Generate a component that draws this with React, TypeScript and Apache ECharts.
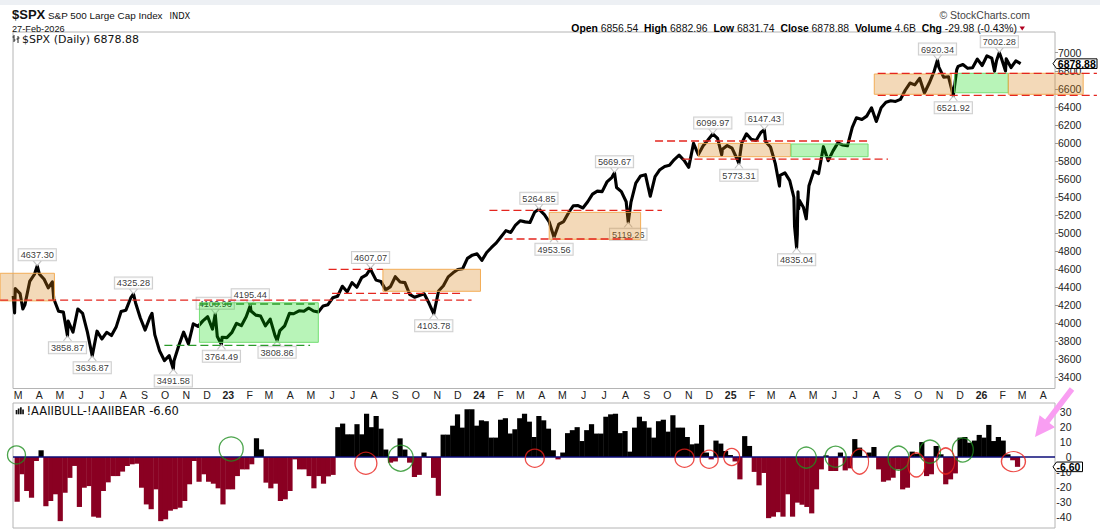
import React, { useEffect, useRef } from "react";
import * as echarts from "echarts";

// ---------------- DATA ----------------
// S&P 500 weekly closes plus the labelled swing extremes
const spx2022: [string, number][] = [
  ["2022-02-22", 4304], ["2022-02-24", 4115], ["2022-02-25", 4385], ["2022-03-04", 4329], ["2022-03-08", 4158],
  ["2022-03-11", 4204], ["2022-03-18", 4463], ["2022-03-25", 4543], ["2022-03-29", 4637.3], ["2022-04-01", 4546],
  ["2022-04-08", 4488], ["2022-04-14", 4392], ["2022-04-20", 4459], ["2022-04-22", 4272], ["2022-04-29", 4132],
  ["2022-05-06", 4123], ["2022-05-12", 3858.87], ["2022-05-13", 4024], ["2022-05-20", 3901], ["2022-05-27", 4158],
  ["2022-06-03", 4109], ["2022-06-10", 3901], ["2022-06-17", 3636.87], ["2022-06-24", 3912], ["2022-07-01", 3825],
  ["2022-07-08", 3899], ["2022-07-15", 3863], ["2022-07-22", 3962], ["2022-07-29", 4130], ["2022-08-05", 4145],
  ["2022-08-12", 4280], ["2022-08-16", 4325.28], ["2022-08-19", 4228], ["2022-08-26", 4058], ["2022-09-02", 3924],
  ["2022-09-09", 4067], ["2022-09-12", 4110], ["2022-09-16", 3873], ["2022-09-23", 3693], ["2022-09-30", 3586],
  ["2022-10-07", 3640], ["2022-10-13", 3491.58], ["2022-10-14", 3583], ["2022-10-21", 3753], ["2022-10-28", 3901],
  ["2022-11-04", 3771], ["2022-11-11", 3993], ["2022-11-18", 3965], ["2022-11-25", 4026], ["2022-12-02", 4072],
  ["2022-12-09", 3934], ["2022-12-13", 4100.96], ["2022-12-16", 3852], ["2022-12-22", 3764.49], ["2022-12-23", 3845],
  ["2022-12-30", 3840],
];
const spx2023: [string, number][] = [
  ["2023-01-06", 3895], ["2023-01-13", 3999], ["2023-01-20", 3973], ["2023-01-27", 4071], ["2023-02-02", 4195.44],
  ["2023-02-03", 4136], ["2023-02-10", 4090], ["2023-02-17", 4079], ["2023-02-24", 3970], ["2023-03-03", 4046],
  ["2023-03-10", 3862], ["2023-03-13", 3808.86], ["2023-03-17", 3917], ["2023-03-24", 3971], ["2023-03-31", 4109],
  ["2023-04-06", 4105], ["2023-04-14", 4138], ["2023-04-21", 4133], ["2023-04-28", 4169], ["2023-05-05", 4136],
  ["2023-05-12", 4124], ["2023-05-19", 4192], ["2023-05-26", 4205], ["2023-06-02", 4282], ["2023-06-09", 4299],
  ["2023-06-16", 4410], ["2023-06-23", 4348], ["2023-06-30", 4450], ["2023-07-07", 4399], ["2023-07-14", 4505],
  ["2023-07-21", 4536], ["2023-07-27", 4607.07], ["2023-07-28", 4582], ["2023-08-04", 4478], ["2023-08-11", 4464],
  ["2023-08-18", 4370], ["2023-08-25", 4406], ["2023-09-01", 4516], ["2023-09-08", 4457], ["2023-09-15", 4450],
  ["2023-09-22", 4320], ["2023-09-29", 4288], ["2023-10-06", 4308], ["2023-10-13", 4327], ["2023-10-20", 4224],
  ["2023-10-27", 4103.78], ["2023-11-03", 4358], ["2023-11-10", 4415], ["2023-11-17", 4514], ["2023-11-24", 4559],
  ["2023-12-01", 4595], ["2023-12-08", 4604], ["2023-12-15", 4719], ["2023-12-22", 4755], ["2023-12-29", 4770],
];
const spx2024: [string, number][] = [
  ["2024-01-05", 4697], ["2024-01-12", 4784], ["2024-01-19", 4840], ["2024-01-26", 4891], ["2024-02-02", 4959],
  ["2024-02-09", 5027], ["2024-02-16", 5006], ["2024-02-23", 5089], ["2024-03-01", 5137], ["2024-03-08", 5124],
  ["2024-03-15", 5117], ["2024-03-22", 5234], ["2024-03-28", 5264.85], ["2024-04-05", 5204], ["2024-04-12", 5123],
  ["2024-04-19", 4953.56], ["2024-04-26", 5100], ["2024-05-03", 5128], ["2024-05-10", 5223], ["2024-05-17", 5303],
  ["2024-05-24", 5305], ["2024-05-31", 5278], ["2024-06-07", 5347], ["2024-06-14", 5432], ["2024-06-21", 5465],
  ["2024-06-28", 5460], ["2024-07-05", 5567], ["2024-07-12", 5615], ["2024-07-16", 5669.67], ["2024-07-19", 5505],
  ["2024-07-26", 5459], ["2024-08-02", 5347], ["2024-08-05", 5119.26], ["2024-08-09", 5344], ["2024-08-16", 5554],
  ["2024-08-23", 5634], ["2024-08-30", 5648], ["2024-09-06", 5408], ["2024-09-13", 5626], ["2024-09-20", 5703],
  ["2024-09-27", 5738], ["2024-10-04", 5751], ["2024-10-11", 5815], ["2024-10-18", 5864], ["2024-10-25", 5808],
  ["2024-11-01", 5729], ["2024-11-08", 5995], ["2024-11-15", 5871], ["2024-11-22", 5969], ["2024-11-29", 6032],
  ["2024-12-06", 6099.97], ["2024-12-13", 6051], ["2024-12-19", 5867], ["2024-12-20", 5930], ["2024-12-27", 5971],
];
const spx2025: [string, number][] = [
  ["2025-01-03", 5942], ["2025-01-10", 5827], ["2025-01-13", 5773.31], ["2025-01-17", 5997], ["2025-01-24", 6101],
  ["2025-01-31", 6041], ["2025-02-07", 6026], ["2025-02-14", 6115], ["2025-02-19", 6147.43], ["2025-02-21", 6013],
  ["2025-02-28", 5955], ["2025-03-07", 5770], ["2025-03-13", 5521], ["2025-03-14", 5639], ["2025-03-21", 5668],
  ["2025-03-28", 5581], ["2025-04-03", 5397], ["2025-04-04", 5074], ["2025-04-07", 4835.04], ["2025-04-08", 4982],
  ["2025-04-09", 5457], ["2025-04-10", 5268], ["2025-04-11", 5363], ["2025-04-17", 5283], ["2025-04-21", 5158],
  ["2025-04-25", 5525], ["2025-05-02", 5687], ["2025-05-09", 5660], ["2025-05-16", 5958], ["2025-05-23", 5803],
  ["2025-05-30", 5912], ["2025-06-06", 6000], ["2025-06-13", 5977], ["2025-06-20", 5968], ["2025-06-27", 6173],
  ["2025-07-03", 6279], ["2025-07-11", 6260], ["2025-07-18", 6297], ["2025-07-25", 6389], ["2025-08-01", 6238],
  ["2025-08-08", 6389], ["2025-08-15", 6450], ["2025-08-22", 6467], ["2025-08-29", 6460], ["2025-09-05", 6482],
  ["2025-09-12", 6584], ["2025-09-19", 6664], ["2025-09-26", 6644], ["2025-10-03", 6716], ["2025-10-10", 6553],
  ["2025-10-17", 6664], ["2025-10-24", 6792], ["2025-10-29", 6920.34], ["2025-10-31", 6840], ["2025-11-07", 6729],
  ["2025-11-14", 6734], ["2025-11-21", 6521.92], ["2025-11-26", 6813], ["2025-11-28", 6849], ["2025-12-05", 6870],
  ["2025-12-12", 6827], ["2025-12-19", 6834], ["2025-12-26", 6930],
];
const spx2026: [string, number][] = [
  ["2026-01-02", 6858], ["2026-01-09", 6966], ["2026-01-16", 6940], ["2026-01-20", 6796], ["2026-01-23", 6915],
  ["2026-01-27", 7002.28], ["2026-01-30", 6939], ["2026-02-05", 6798], ["2026-02-06", 6932], ["2026-02-13", 6836],
  ["2026-02-20", 6910], ["2026-02-27", 6878.88],
];
const lastClose = 6878.88;
const lastSpread = -6.6;

// AAII bull-bear spread, weekly from 2022-02-24
const spreadFirstWeek = "2022-02-24";
const aaiiSpread = [
  -30, -11.6, -22.8, -27.3, -2.7, 4.5, -33, -29.5, -25, -43,
  -24, -14, -6, -33.5, -20.6, -19.5, -40, -40.7, -22.8, -17,
  -12.8, -12.8, -9.8, -6, -4.9, -4.5, -20.6, -31.8, -35, -21.7,
  -43, -41.8, -36, -35, -34, -29.5, -18.3, -2.7, -16.6, -11.6,
  -16.6, -17.9, -21, -31.8, -21.7, -21.7, -12.8, -8.3, -8.3, -4.9,
  12.5, 5.1, -17.2, -21, -17.9, -29.5, -28.4, -22.8, -1.6, -8.3,
  -8.3, -12.8, -21, -12.8, -17.9, -13, -12, 20, 22.4, 15.2,
  15.2, 22, 15.2, 29, 20, 27.5, 19, 5, -3.8, -3,
  12.5, 5, -3.8, -13.4, -12, 3, -0.5, -14, -26, 15,
  15, 21, 28.6, 19.7, 32, 32, 21, 24.6, 24, 13,
  13, 25, 26, 15.7, 18.6, 26, 29, 23.7, 13.4, 27.5,
  24.6, 19, 4.5, -1.6, 3, 16, 18, 20, 10.7, 18,
  22, 15.7, 15.7, 27, 28.6, 29, 16, 17.4, 3.6, 19.7,
  27, 24, 19.7, 13, 24, 25, 17, 28, 19.7, 19.7,
  13.4, 8.5, 9, 21.5, 3, -1.6, 11, 9, 4, 1.3,
  -3, -15, 14, 7.4, -10, -19, -10.7, -41, -40, -37,
  -40, -25, -40, -30.6, -32, -33.5, -37.8, -21.7, -8.3, 1.1,
  -9.4, -9.4, 3, -9, -7.6, 12, 6.3, 0.7, 3, 6.7,
  -8.3, -16.6, -15.7, -13.9, -8.3, -21.7, -20.6, 3.6, 2.2, 10,
  -12.8, -11.6, 7.4, 1.8, -18.3, -15, -11, 13, 13.4, 9.6,
  11, 14.8, 13, 21.5, 10.7, 13.4, 11, 1.8, -2.2, -6.6,
];

const priceTicks = [3400, 3600, 3800, 4000, 4200, 4400, 4600, 4800, 5000, 5200, 5400, 5600, 5800, 6000, 6200, 6400, 6600, 6800, 7000];
const spreadTicks = [30, 20, 10, 0, -10, -20, -30, -40];
const monthLetters = ["J", "F", "M", "A", "M", "J", "J", "A", "S", "O", "N", "D"];

// price callouts
const calloutDates = ["2022-03-29", "2022-05-12", "2022-06-17", "2022-08-16", "2022-10-13", "2022-12-13", "2022-12-22", "2023-02-02", "2023-03-13", "2023-07-27", "2023-10-27", "2024-03-28", "2024-04-19", "2024-07-16", "2024-08-05", "2024-12-06", "2025-01-13", "2025-02-19", "2025-04-07", "2025-10-29", "2025-11-21", "2026-01-27"];
const calloutValues = [4637.3, 3858.87, 3636.87, 4325.28, 3491.58, 4100.96, 3764.49, 4195.44, 3808.86, 4607.07, 4103.78, 5264.85, 4953.56, 5669.67, 5119.26, 6099.97, 5773.31, 6147.43, 4835.04, 6920.34, 6521.92, 7002.28];
const calloutSides = ["top", "bottom", "bottom", "top", "bottom", "top", "bottom", "top", "bottom", "top", "bottom", "top", "bottom", "top", "bottom", "top", "bottom", "top", "bottom", "top", "bottom", "top"];

// shaded zones
const zoneStarts = ["2022-02-03", "2022-11-20", "2023-08-14", "2024-04-12", "2024-11-15", "2025-03-30", "2025-07-29", "2025-11-23", "2026-02-09"];
const zoneEnds = ["2022-04-23", "2023-05-12", "2024-01-03", "2024-08-23", "2025-03-29", "2025-07-20", "2025-11-18", "2026-02-09", "2026-05-29"];
const zoneLows = [4248, 3788, 4354, 4931, 5847, 5847, 6539, 6556, 6539];
const zoneHighs = [4554, 4227, 4598, 5230, 5995, 5988, 6764, 6772, 6772];
const zoneKinds = ["orange", "green", "orange", "orange", "orange", "green", "orange", "green", "orange"];

// dashed levels
const levelStarts = ["2022-02-03", "2023-06-01", "2023-05-27", "2024-01-16", "2024-02-07", "2024-09-13", "2024-10-23", "2025-08-03", "2025-08-03", "2022-11-21", "2022-09-30"];
const levelEnds = ["2023-12-21", "2023-12-08", "2023-08-14", "2024-09-23", "2024-08-12", "2025-07-22", "2025-08-18", "2026-06-18", "2026-06-18", "2023-05-07", "2023-04-30"];
const levelValues = [4256, 4332, 4598, 5252, 4934, 6021, 5821, 6772, 6528, 4213, 3755];
const levelKinds = ["red", "red", "red", "red", "red", "red", "red", "red", "red", "green", "green"];

// sentiment circles
const greenCircleDates = ["2022-02-23", "2023-01-03", "2023-09-08", "2025-04-23", "2025-06-05", "2025-09-05", "2025-10-21", "2025-12-08"];
const greenCircleLevels = [1.4, 5.4, -0.8, -0.4, 0.2, -0.8, 3.6, 4.7];
const redCircleDates = ["2023-07-19", "2024-03-22", "2024-10-27", "2024-12-02", "2025-01-04", "2025-07-10", "2025-10-01", "2025-11-13", "2026-02-20"];
const redCircleLevels = [-4.2, -0.8, -0.8, -1.5, 0, -3.1, -5.3, -2.7, -3.1];

// ---------------- STYLE ----------------
const greenCircleSizes = [[18, 18], [24, 24], [25, 26], [20, 21], [21, 21], [21, 24], [21, 23], [21, 24]];
const redCircleSizes = [[22, 22], [19, 18], [19, 18], [18, 18], [16, 17], [18, 25], [17, 24], [18, 26], [24, 20]];
const FONT = "Liberation Sans";
const VFONT = "DejaVu Sans";
const DAY = 86400000;

const ts = (s: string) => {
  const [y, m, d] = s.split("-").map(Number);
  return new Date(y, m - 1, d).getTime();
};
const X_MIN = new Date(2022, 1, 21, 17).getTime();
const X_MAX = new Date(2026, 3, 18).getTime();

function buildOption(): any {
  const price = [...spx2022, ...spx2023, ...spx2024, ...spx2025, ...spx2026].map(([d, v]) => [ts(d), v]);
  const start = ts(spreadFirstWeek);
  const spread = aaiiSpread.map((v, i) => [start + i * 7 * DAY, v]);
  const callouts = calloutDates.map((d, i) => {
    const up = calloutSides[i] === "top";
    return {
      value: [ts(d), calloutValues[i]],
      symbol: up ? "path://M0,0L4,5L8,0" : "path://M0,5L4,0L8,5",
      symbolOffset: [0, up ? "-50%" : "50%"],
      label: { position: up ? "top" : "bottom", distance: up ? 0 : 1 },
    };
  });
  const circles = (dates: string[], levels: number[], sizes: number[][]) =>
    dates.map((d, i) => ({ value: [ts(d), levels[i]], symbolSize: sizes[i] }));

  return {
    animation: false,
    backgroundColor: "#ffffff",
    textStyle: { fontFamily: FONT },
    grid: [
      { left: 13, top: 32, width: 1042, height: 356.5, show: true, borderColor: "#b4b4b4", borderWidth: 1, backgroundColor: "rgba(0,0,0,0)", outerBoundsMode: "none" },
      { left: 13, top: 403, width: 1042, height: 125, show: true, borderColor: "#b4b4b4", borderWidth: 1, backgroundColor: "rgba(0,0,0,0)", outerBoundsMode: "none" },
    ],
    xAxis: [
      {
        type: "time", gridIndex: 0, min: X_MIN, max: X_MAX, splitNumber: 50,
        minInterval: 28 * DAY, maxInterval: 31 * DAY,
        axisLine: { show: false }, axisTick: { show: false }, splitLine: { show: false },
        axisLabel: {
          margin: 1, fontSize: 10.5, color: "#222", fontFamily: FONT, hideOverlap: false,
          showMinLabel: false, showMaxLabel: false,
          formatter: (v: number) => {
            const d = new Date(v);
            if (d.getDate() !== 1 || d.getHours() !== 0) return "";
            const m = d.getMonth();
            return m === 0 ? `{yr|${String(d.getFullYear()).slice(2)}}` : monthLetters[m];
          },
          rich: { yr: { fontWeight: "bold", fontSize: 10.5, color: "#222", fontFamily: FONT } },
        },
      },
      {
        type: "time", gridIndex: 1, min: X_MIN, max: X_MAX,
        axisLine: { show: false }, axisTick: { show: false }, splitLine: { show: false }, axisLabel: { show: false },
      },
    ],
    yAxis: [
      {
        type: "value", gridIndex: 0, position: "right", min: 3276, max: 7230,
        axisLine: { show: false }, splitLine: { show: false },
        axisTick: { show: true, customValues: priceTicks, length: 3, lineStyle: { color: "#999" } },
        axisLabel: { customValues: priceTicks, margin: 3, fontSize: 10.5, color: "#222", fontFamily: FONT, formatter: (v: number) => String(v) },
      },
      {
        type: "value", gridIndex: 1, position: "right", min: -47.6, max: 36.2,
        axisLine: { show: false }, splitLine: { show: false }, axisTick: { show: false },
        axisLabel: { customValues: spreadTicks, margin: 16.5, align: "right", fontSize: 10.5, color: "#222", fontFamily: FONT, formatter: (v: number) => String(v) },
      },
    ],
    series: [
      {
        name: "SPX", type: "line", xAxisIndex: 0, yAxisIndex: 0, data: price,
        symbol: "none", showSymbol: false, silent: true, z: 2,
        lineStyle: { color: "#000", width: 3.1, join: "round" },
      },
      {
        name: "callouts", type: "scatter", xAxisIndex: 0, yAxisIndex: 0, data: callouts,
        symbolSize: [8, 5], silent: true, z: 3,
        itemStyle: { color: "#ffffff", borderColor: "#b5b5b5", borderWidth: 1 },
        label: {
          show: true, formatter: (p: any) => p.value[1].toFixed(2), fontSize: 9.2, lineHeight: 10,
          color: "#000", fontFamily: FONT, backgroundColor: "#ffffff", borderColor: "#c2c2c2", borderWidth: 1,
          padding: [1, 2, 0, 2],
        },
      },
      {
        name: "AAII", type: "bar", xAxisIndex: 1, yAxisIndex: 1, data: spread, barWidth: 5.2, silent: true, z: 2,
        itemStyle: { color: (p: any) => (p.value[1] >= 0 ? "#000000" : "#8a0022") },
        markLine: {
          silent: true, symbol: ["none", "none"], label: { show: false }, z: 5, animation: false,
          lineStyle: { color: "#0d0d78", width: 1.6, type: "solid" }, data: [{ yAxis: 0 }],
        },
      },
      {
        name: "green circles", type: "scatter", xAxisIndex: 1, yAxisIndex: 1, symbol: "circle", clip: false, silent: true, z: 6,
        data: circles(greenCircleDates, greenCircleLevels, greenCircleSizes),
        itemStyle: { color: "rgba(0,0,0,0)", borderColor: "#1f8f1f", borderWidth: 1.3 },
      },
      {
        name: "red circles", type: "scatter", xAxisIndex: 1, yAxisIndex: 1, symbol: "circle", clip: false, silent: true, z: 6,
        data: circles(redCircleDates, redCircleLevels, redCircleSizes),
        itemStyle: { color: "rgba(0,0,0,0)", borderColor: "#e8201c", borderWidth: 1.3 },
      },
    ],
  };
}

function txt(x: number, y: number, text: string, o: any = {}): any {
  const style: any = { text, fill: o.fill || "#111", fontSize: o.size || 10, fontFamily: o.family || FONT, fontWeight: o.weight || "normal", align: o.align || "left", verticalAlign: "middle" };
  if (o.rich) style.rich = o.rich;
  return { type: "text", x, y, z: 50, silent: true, style };
}

function buildGraphics(chart: any): any[] {
  const g: any[] = [];
  const px = (d: string, v: number) => chart.convertToPixel({ gridIndex: 0 }, [ts(d), v]) as number[];

  g.push({ type: "rect", z: 0, silent: true, shape: { x: 0, y: 0, width: 1100, height: 5 }, style: { fill: "#edf0f4" } });

  zoneStarts.forEach((s, i) => {
    const [x1, y1] = px(s, zoneHighs[i]);
    const [x2, y2] = px(zoneEnds[i], zoneLows[i]);
    const orange = zoneKinds[i] === "orange";
    g.push({
      type: "rect", z: 4, silent: true,
      shape: { x: x1, y: y1, width: x2 - x1, height: y2 - y1 },
      style: orange
        ? { fill: "rgba(215,130,20,0.30)", stroke: "rgba(242,170,80,0.95)", lineWidth: 1 }
        : { fill: "rgba(0,215,0,0.28)", stroke: "rgba(110,220,110,0.95)", lineWidth: 1 },
    });
  });

  levelStarts.forEach((s, i) => {
    const [x1, y1] = px(s, levelValues[i]);
    const [x2] = px(levelEnds[i], levelValues[i]);
    const red = levelKinds[i] === "red";
    g.push({
      type: "line", z: 5, silent: true,
      shape: { x1, y1, x2, y2: y1 },
      style: { stroke: red ? "#e4261f" : "#2a9a2a", lineWidth: 1.3, lineDash: [8, 4] },
    });
  });

  // header
  g.push(txt(12, 14.5, "$SPX", { size: 13, weight: "bold", fill: "#111" }));
  g.push(txt(48, 15, "S&P 500 Large Cap Index", { size: 9.9, fill: "#111" }));
  g.push(txt(169.5, 15.5, "INDX", { size: 8.3, family: VFONT, fill: "#111" }));
  g.push(txt(12, 28.5, "27-Feb-2026", { size: 9.2, fill: "#111" }));
  g.push(txt(1030, 15, "\u00a9 StockCharts.com", { size: 10.5, fill: "#444", align: "right" }));
  g.push(txt(1017, 28.3,
    "{b|Open} 6856.54  {b|High} 6882.96  {b|Low} 6831.74  {b|Close} 6878.88  {b|Volume} 4.6B  {b|Chg} -29.98 (-0.43%)",
    { size: 10.4, align: "right", fill: "#111", rich: { b: { fontWeight: "bold", fontSize: 10.4, fontFamily: FONT, fill: "#000" } } }));
  g.push({ type: "polygon", z: 50, silent: true, shape: { points: [[1019.5, 26.5], [1025, 26.5], [1022.2, 30.5]] }, style: { fill: "#b00020" } });

  // panel legends
  const icon = [[14, 35, 14, 42], [12.5, 37, 14, 37], [14, 40, 15.5, 40], [18, 36, 18, 43], [16.5, 39, 18, 39], [18, 38, 19.5, 38]];
  icon.forEach(([x1, y1, x2, y2]) => g.push({ type: "line", z: 50, silent: true, shape: { x1, y1, x2, y2 }, style: { stroke: "#222", lineWidth: 1 } }));
  g.push(txt(22, 39.5, "$SPX (Daily) 6878.88", { size: 11, family: VFONT, fill: "#111" }));

  [[15.7, 410], [17.8, 408.5], [20, 407.3], [22.2, 409.5]].forEach(([x, y]) =>
    g.push({ type: "rect", z: 50, silent: true, shape: { x, y, width: 1.7, height: 414.3 - y }, style: { fill: "#111" } }));
  g.push(txt(26.5, 410.8, "!AAIIBULL-!AAIIBEAR -6.60", { size: 11.5, family: VFONT, fill: "#111" }));

  // current value markers
  const yP = chart.convertToPixel({ yAxisIndex: 0 }, lastClose) as number;
  g.push({ type: "polygon", z: 100, silent: true, shape: { points: [[1053, yP], [1056.5, yP - 4.8], [1097, yP - 4.8], [1097, yP + 4.8], [1056.5, yP + 4.8]] }, style: { fill: "#fff", stroke: "#000", lineWidth: 1 } });
  g.push({ ...txt(1057.8, yP + 0.3, lastClose.toFixed(2), { size: 10.5, weight: "bold", fill: "#000" }), z: 101 });
  const yS = chart.convertToPixel({ yAxisIndex: 1 }, lastSpread) as number;
  g.push({ type: "polygon", z: 100, silent: true, shape: { points: [[1053, yS], [1056.5, yS - 4.8], [1082.5, yS - 4.8], [1082.5, yS + 4.8], [1056.5, yS + 4.8]] }, style: { fill: "#fff", stroke: "#000", lineWidth: 1 } });
  g.push({ ...txt(1056.5, yS + 0.3, lastSpread.toFixed(2), { size: 10.5, weight: "bold", fill: "#000" }), z: 101 });

  // pink arrow annotation
  g.push({
    type: "polygon", z: 100, silent: true,
    shape: { points: [[1035, 437], [1055, 427.2], [1049.5, 422.9], [1074.2, 390.7], [1069.8, 387.3], [1045.1, 419.5], [1039.6, 415.2]] },
    style: { fill: "#f99ef2" },
  });
  return g;
}

export default function App() {
  const ref = useRef<HTMLDivElement>(null);
  useEffect(() => {
    document.body.style.margin = "0";
    const el = ref.current as HTMLDivElement;
    const chart = echarts.init(el, null, { renderer: "svg", width: 1100, height: 530 });
    chart.setOption(buildOption());
    chart.setOption({ graphic: { elements: buildGraphics(chart) } });
    return () => chart.dispose();
  }, []);
  return <div ref={ref} style={{ width: 1100, height: 530 }} />;
}
